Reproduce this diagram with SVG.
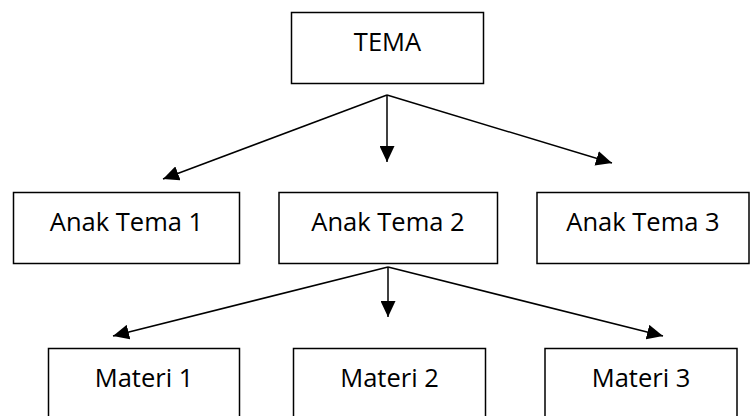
<svg xmlns="http://www.w3.org/2000/svg" width="751" height="416" viewBox="0 0 751 416">
  <style>
    .box { fill: #ffffff; stroke: #000000; stroke-width: 1.5; }
    .label { font-family: "Open Sans", "Liberation Sans", sans-serif; font-size: 25.5px; fill: #000000; text-anchor: middle; }
    .link { stroke: #000000; stroke-width: 1.5; fill: none; marker-end: url(#arrow); }
  </style>
  <defs>
    <marker id="arrow" viewBox="0 0 16 15" refX="16" refY="7.5" markerWidth="16" markerHeight="15" markerUnits="userSpaceOnUse" orient="auto">
      <path d="M0,0 L16,7.5 L0,15 Z" fill="#000000"/>
    </marker>
  </defs>

  <g id="connectors">
    <line class="link" x1="387" y1="95" x2="163" y2="179"/>
    <line class="link" x1="387" y1="95" x2="387" y2="162"/>
    <line class="link" x1="387" y1="95" x2="612" y2="163"/>
    <line class="link" x1="388" y1="267" x2="113" y2="336"/>
    <line class="link" x1="388" y1="267" x2="388" y2="317"/>
    <line class="link" x1="388" y1="267" x2="663" y2="336"/>
  </g>

  <g id="tema">
    <rect class="box" x="291.5" y="12.5" width="192" height="71"/>
    <text class="label" x="387.5" y="51">TEMA</text>
  </g>

  <g id="anak-tema-1">
    <rect class="box" x="13.5" y="192.5" width="226" height="71"/>
    <text class="label" x="126.5" y="231">Anak Tema 1</text>
  </g>
  <g id="anak-tema-2">
    <rect class="box" x="279" y="192.5" width="218.5" height="71"/>
    <text class="label" x="388" y="231">Anak Tema 2</text>
  </g>
  <g id="anak-tema-3">
    <rect class="box" x="537" y="192.5" width="212" height="71"/>
    <text class="label" x="643" y="231">Anak Tema 3</text>
  </g>

  <g id="materi-1">
    <rect class="box" x="48.5" y="348.5" width="191" height="80"/>
    <text class="label" x="144" y="387">Materi 1</text>
  </g>
  <g id="materi-2">
    <rect class="box" x="293.5" y="348.5" width="192" height="80"/>
    <text class="label" x="389.5" y="387">Materi 2</text>
  </g>
  <g id="materi-3">
    <rect class="box" x="545" y="348.5" width="192" height="80"/>
    <text class="label" x="641" y="387">Materi 3</text>
  </g>
</svg>
